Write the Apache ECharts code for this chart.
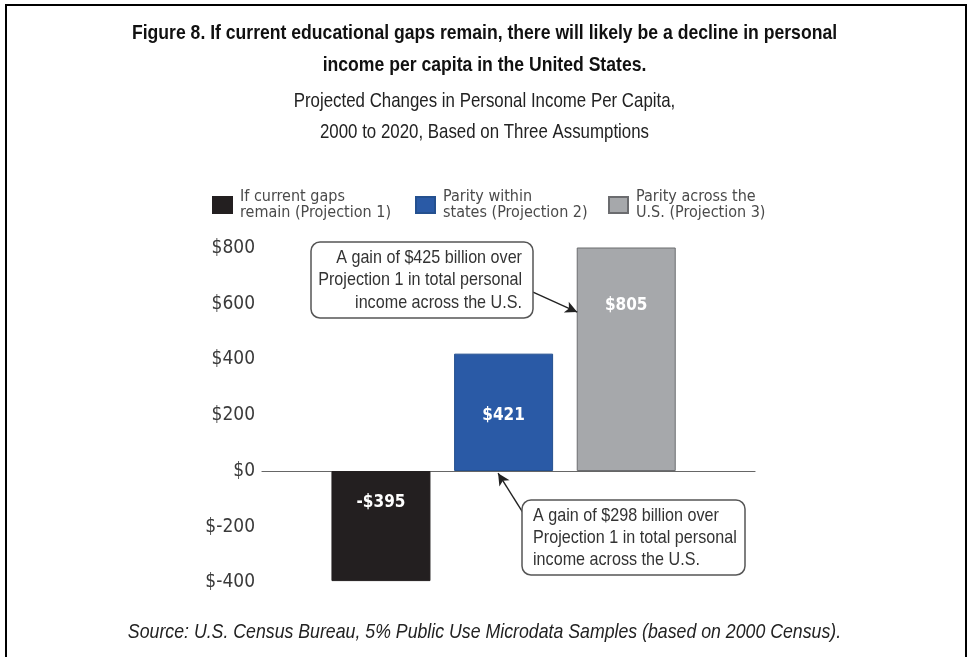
<!DOCTYPE html>
<html>
<head>
<meta charset="utf-8">
<title>Figure 8</title>
<script src="https://cdn.jsdelivr.net/npm/echarts@6/dist/echarts.min.js"></script>
<style>
  html, body { margin: 0; padding: 0; background: #fff; }
  #main { width: 969px; height: 657px; }
</style>
</head>
<body>
<div id="main"></div>
<script>
var projections = ['If current gaps\nremain (Projection 1)', 'Parity within\nstates (Projection 2)', 'Parity across the\nU.S. (Projection 3)']
var positions = [0, 1, 2]
var values = [-395, 421, 805]
var valueLabels = ['-$395', '$421', '$805']
var yTicks = [-400, -200, 0, 200, 400, 600, 800]

var titleText = 'Figure 8. If current educational gaps remain, there will likely be a decline in personal\nincome per capita in the United States.'
var subtitleText = 'Projected Changes in Personal Income Per Capita,\n2000 to 2020, Based on Three Assumptions'
var sourceText = 'Source: U.S. Census Bureau, 5% Public Use Microdata Samples (based on 2000 Census).'
var note1 = 'A gain of $425 billion over\nProjection 1 in total personal\nincome across the U.S.'
var note2 = 'A gain of $298 billion over\nProjection 1 in total personal\nincome across the U.S.'

var font = "'DejaVu Sans Condensed', 'Liberation Sans', sans-serif"
var wideFont = "'Liberation Sans', Arial, sans-serif"
var colors = ['#231f20', '#2a5aa6', '#a6a8ab']
var borders = ['#231f20', '#24508f', '#6b6c6f']
var legendLeft = [212, 415, 608]
var labelShift = [-23, 3, -54]

var myChart = echarts.init(document.getElementById('main'))

var series = projections.map(function (name, i) {
  return {
    name: name,
    type: 'bar',
    barWidth: 99,
    barGap: '-100%',
    data: [[positions[i], values[i]]],
    itemStyle: {
      color: colors[i],
      borderColor: borders[i],
      borderWidth: 1
    },
    label: {
      show: true,
      position: 'inside',
      offset: [0, labelShift[i]],
      formatter: valueLabels[i],
      color: '#fff',
      fontFamily: font,
      fontWeight: 'bold',
      fontSize: 17
    }
  }
})

// arrows from the callouts to the bars, in data coordinates
var arrowStyle = {
  silent: true,
  symbol: ['none', 'arrow'],
  symbolSize: [9, 12],
  label: { show: false },
  lineStyle: { color: '#222', width: 1.4, type: 'solid' }
}
series[2].markLine = Object.assign({ data: [[{ coord: [1.24, 642] }, { coord: [1.6, 570] }]] }, arrowStyle)
series[1].markLine = Object.assign({ data: [[{ coord: [1.16, -151] }, { coord: [0.955, -8] }]] }, arrowStyle)

// narrow text: Liberation Sans squeezed horizontally
function narrowText (text, x, y, opt) {
  return {
    type: 'text',
    silent: true,
    x: x,
    y: y,
    scaleX: opt.scaleX,
    z: 11,
    style: {
      text: text,
      align: opt.align || 'center',
      verticalAlign: 'middle',
      font: (opt.style || 'normal') + ' ' + (opt.weight || 'normal') + ' ' + opt.size + 'px ' + wideFont,
      lineHeight: opt.lineHeight,
      fill: opt.color || '#222'
    }
  }
}

myChart.setOption({
  animation: false,
  backgroundColor: '#fff',
  legend: projections.map(function (name, i) {
    return {
      data: [name],
      left: legendLeft[i],
      top: 189,
      padding: 0,
      icon: 'rect',
      itemWidth: 19,
      itemHeight: 16,
      selectedMode: false,
      textStyle: {
        fontFamily: font,
        fontSize: 16,
        lineHeight: 16,
        color: '#4a4a4a',
        padding: [0, 0, 0, 3]
      }
    }
  }),
  grid: {
    left: 262,
    right: 214,
    top: 248,
    bottom: 74.5
  },
  xAxis: {
    type: 'value',
    min: -0.97,
    max: 3.05,
    axisLine: { show: true, onZero: true, lineStyle: { color: '#666', width: 1.2 } },
    axisTick: { show: false },
    axisLabel: { show: false },
    splitLine: { show: false }
  },
  yAxis: {
    type: 'value',
    min: yTicks[0],
    max: yTicks[yTicks.length - 1],
    interval: 200,
    axisLine: { show: false },
    axisTick: { show: false },
    splitLine: { show: false },
    axisLabel: {
      margin: 7,
      fontFamily: font,
      fontSize: 19,
      color: '#3a3a3a',
      formatter: function (v) { return '$' + v }
    }
  },
  series: series,
  graphic: [{
    type: 'rect',
    silent: true,
    shape: { x: 6, y: 5, width: 960, height: 700 },
    style: { fill: 'none', stroke: '#000', lineWidth: 2 }
  },
  narrowText(titleText, 484.5, 49, { size: 21, weight: 'bold', lineHeight: 32, scaleX: 0.838, color: '#111' }),
  narrowText(subtitleText, 484.5, 116.5, { size: 21, lineHeight: 31, scaleX: 0.803 }),
  narrowText(sourceText, 484.5, 632, { size: 21, style: 'italic', lineHeight: 26, scaleX: 0.844 }),
  {
    type: 'rect',
    silent: true,
    shape: { x: 311, y: 242, width: 222, height: 76, r: 9 },
    style: { fill: '#fff', stroke: '#555', lineWidth: 1.5 },
    z: 10
  },
  narrowText(note1, 522, 280, { size: 19, lineHeight: 22.5, scaleX: 0.85, align: 'right', color: '#333' }),
  {
    type: 'rect',
    silent: true,
    shape: { x: 522, y: 500, width: 223, height: 75, r: 9 },
    style: { fill: '#fff', stroke: '#555', lineWidth: 1.5 },
    z: 10
  },
  narrowText(note2, 533, 538, { size: 19, lineHeight: 22, scaleX: 0.85, align: 'left', color: '#333' })
  ]
})
</script>
</body>
</html>
